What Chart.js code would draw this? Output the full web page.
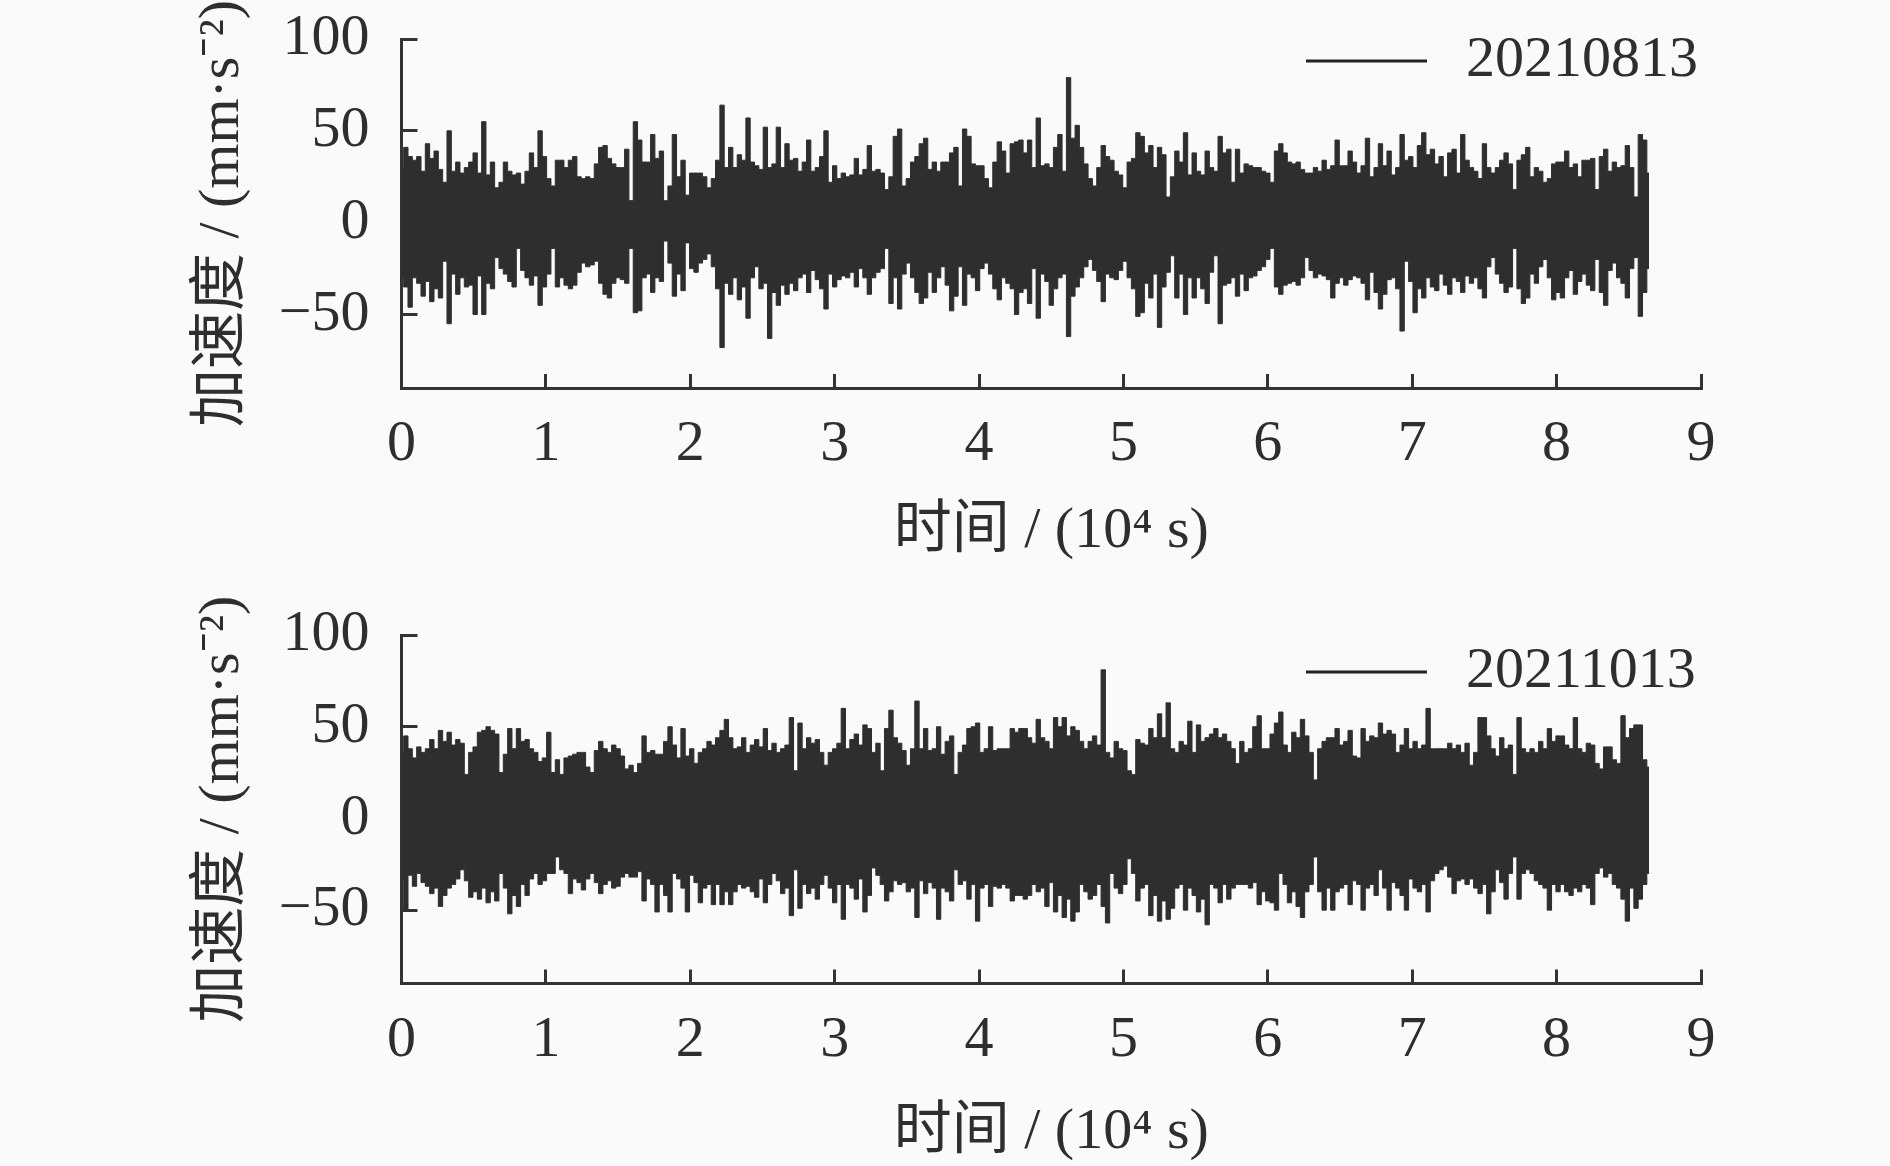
<!DOCTYPE html>
<html><head><meta charset="utf-8">
<script src="https://cdn.jsdelivr.net/npm/chart.js@4"></script>
<style>
html,body{margin:0;padding:0;background:#fafafa;overflow:hidden}
.w{position:absolute;left:0;width:1890px}
canvas{display:block}
</style></head><body>
<div class="w" style="top:0;height:590px"><canvas id="c1"></canvas></div>
<div class="w" style="top:590px;height:576px"><canvas id="c2"></canvas></div>
<script>
const xTickValues=[0,1,2,3,4,5,6,7,8,9];
const yTickValues=[-50,0,50,100];
const sampleStep=0.03;
const legendTop="20210813";
const legendBottom="20211013";
const xTitle="时间 / (10⁴ s)";
const yTitle="加速度 / (mm·s⁻²)";

const topUpper=[30,41,36,34,36,28,43,35,39,29,22,50,28,33,27,30,33,38,27,55,26,33,19,22,33,28,26,27,21,28,38,30,50,36,24,20,34,34,30,34,36,25,24,25,24,32,41,42,35,32,30,30,40,12,55,45,33,33,48,35,39,12,20,48,25,34,15,27,27,27,25,19,24,34,64,30,41,30,37,34,57,33,31,29,52,30,32,52,30,43,34,35,28,33,45,28,30,36,50,22,31,24,27,25,26,35,26,29,42,28,29,27,18,25,47,51,20,24,33,36,43,46,29,33,28,33,33,38,41,20,51,47,32,31,31,24,19,33,44,39,27,43,44,45,38,45,30,57,31,32,30,41,48,28,79,46,53,41,32,24,20,30,42,36,34,28,26,19,33,35,49,47,38,42,30,41,37,14,25,39,33,49,26,38,28,26,39,30,28,47,38,40,22,40,27,32,31,30,30,28,27,22,39,43,38,33,32,33,29,27,27,30,28,34,29,31,45,31,31,39,33,27,31,46,25,30,43,31,39,26,30,48,34,36,30,42,49,37,40,32,36,25,38,40,27,48,34,30,28,24,43,30,27,30,34,38,32,18,34,37,41,25,30,28,22,24,32,33,33,39,30,32,25,34,34,35,18,36,40,28,33,30,31,42,30,14,48,45,27];
const topLower=[-30,-35,-46,-30,-33,-40,-32,-43,-36,-41,-21,-55,-28,-39,-30,-35,-34,-50,-29,-50,-33,-36,-19,-25,-28,-32,-35,-14,-26,-30,-34,-29,-45,-35,-28,-14,-35,-30,-34,-36,-34,-27,-22,-24,-23,-21,-33,-39,-41,-33,-30,-31,-33,-14,-49,-48,-30,-28,-38,-30,-32,-10,-22,-40,-28,-37,-11,-25,-27,-22,-20,-17,-24,-36,-68,-33,-39,-30,-42,-35,-52,-30,-24,-36,-33,-63,-38,-45,-34,-39,-33,-37,-30,-28,-38,-26,-31,-36,-47,-28,-35,-31,-29,-30,-27,-35,-25,-30,-39,-30,-27,-25,-14,-44,-30,-47,-28,-22,-30,-38,-44,-41,-27,-38,-30,-24,-34,-48,-40,-24,-45,-28,-30,-37,-25,-22,-28,-36,-42,-30,-33,-36,-50,-38,-36,-44,-25,-52,-28,-32,-45,-36,-30,-28,-62,-40,-35,-30,-24,-20,-26,-32,-43,-28,-30,-31,-26,-21,-30,-36,-51,-49,-33,-41,-28,-57,-35,-27,-18,-41,-28,-50,-30,-41,-30,-36,-44,-27,-18,-55,-34,-33,-30,-40,-28,-37,-30,-29,-26,-24,-20,-14,-35,-39,-34,-33,-32,-34,-30,-19,-26,-30,-28,-29,-31,-41,-33,-30,-34,-31,-29,-30,-33,-42,-27,-38,-47,-39,-31,-30,-36,-59,-21,-32,-49,-36,-41,-30,-35,-37,-28,-34,-39,-30,-32,-38,-29,-33,-30,-36,-41,-24,-19,-28,-33,-38,-35,-14,-36,-44,-41,-28,-33,-24,-20,-30,-42,-38,-41,-30,-26,-39,-32,-28,-34,-37,-20,-38,-45,-26,-22,-30,-33,-41,-25,-19,-51,-38,-25];
const bottomUpper=[36,45,38,33,39,36,38,43,38,48,42,47,40,43,41,24,36,39,47,48,50,48,46,25,35,49,38,49,42,43,38,36,31,33,47,25,32,24,33,34,35,36,36,28,25,37,42,38,36,40,38,34,27,29,25,30,45,36,37,35,35,42,50,40,33,49,34,38,30,36,38,42,40,44,48,54,44,38,39,44,36,40,43,39,49,37,41,36,38,40,55,26,52,38,44,41,43,36,29,36,38,41,60,38,43,46,40,51,49,36,41,26,49,59,44,41,37,29,38,64,38,49,37,38,50,35,42,45,24,36,40,49,50,52,36,38,50,37,38,38,38,49,47,49,49,44,41,54,44,42,38,55,50,55,45,50,48,42,38,42,45,40,81,36,33,42,38,37,26,24,43,41,40,49,44,57,44,63,38,36,42,40,53,36,51,42,44,46,49,44,46,42,38,30,42,36,38,50,56,38,38,46,52,58,40,36,47,44,54,45,36,21,38,42,44,44,49,40,42,48,34,33,49,42,45,44,52,46,48,46,36,40,49,38,42,38,40,60,38,38,38,38,41,38,40,36,41,29,36,55,55,45,38,34,44,38,40,24,55,38,36,38,36,42,38,49,42,45,45,40,38,55,38,36,41,40,30,27,39,39,32,30,56,44,49,51,51,32,28];
const bottomLower=[-33,-50,-31,-37,-30,-35,-37,-41,-38,-48,-42,-38,-36,-33,-28,-34,-43,-40,-44,-38,-46,-40,-45,-30,-38,-52,-42,-48,-36,-42,-33,-30,-36,-34,-30,-30,-21,-28,-30,-41,-33,-35,-39,-33,-30,-35,-41,-36,-34,-38,-37,-32,-30,-32,-32,-29,-45,-33,-36,-51,-36,-42,-51,-30,-33,-38,-51,-31,-35,-46,-38,-36,-47,-36,-47,-40,-47,-40,-36,-38,-37,-40,-43,-33,-46,-36,-30,-34,-41,-38,-53,-28,-49,-36,-41,-38,-44,-36,-31,-38,-46,-36,-55,-36,-38,-44,-33,-51,-42,-27,-31,-36,-45,-40,-34,-36,-35,-40,-38,-54,-34,-41,-35,-38,-55,-38,-40,-45,-28,-36,-34,-44,-36,-56,-38,-36,-48,-37,-38,-36,-38,-45,-42,-42,-44,-42,-36,-40,-38,-48,-35,-51,-42,-54,-44,-56,-51,-36,-40,-44,-42,-36,-48,-57,-30,-38,-41,-36,-22,-30,-45,-38,-36,-53,-42,-56,-45,-55,-49,-38,-36,-50,-38,-42,-51,-44,-58,-36,-38,-46,-36,-44,-38,-36,-36,-36,-38,-35,-47,-40,-45,-46,-50,-30,-36,-46,-40,-48,-54,-40,-36,-21,-40,-50,-38,-50,-40,-38,-36,-47,-34,-36,-50,-38,-36,-42,-28,-38,-50,-35,-38,-42,-50,-33,-38,-40,-36,-51,-34,-30,-28,-26,-32,-41,-34,-33,-36,-33,-38,-41,-36,-52,-40,-28,-35,-44,-30,-21,-44,-30,-28,-30,-34,-36,-38,-50,-36,-40,-36,-40,-42,-38,-40,-36,-38,-47,-30,-27,-32,-30,-36,-38,-44,-56,-38,-49,-44,-36,-30];

const INK='#2e2e2e', AXIS='#333333', FAMILY='"Liberation Serif","Noto Sans CJK SC",serif';
const legendPlacer={id:'legendPlacer',afterLayout(chart){
  const o=chart.options.plugins.legendPlacer;
  chart.legend.left=o.left; chart.legend.top=o.top;
}};
function build(id,h,upper,lower,label,L){
  const series=v=>v.map((y,i)=>({x:i*sampleStep,y}));
  const ds=(v,lab,fill)=>({label:lab,data:series(v),borderColor:INK,backgroundColor:INK,borderWidth:1,pointRadius:0,stepped:'middle',fill});
  new Chart(document.getElementById(id),{
    type:'line',
    data:{datasets:[ds(upper,label,'+1'),ds(lower,label+' lower',false)]},
    plugins:[legendPlacer],
    options:{
      responsive:false,animation:false,devicePixelRatio:1,
      layout:{padding:{left:0,right:189,top:L.top,bottom:0}},
      plugins:{
        tooltip:{enabled:false},
        legendPlacer:{left:1306,top:L.legendY},
        legend:{display:true,position:'chartArea',align:'start',
          labels:{padding:0,color:INK,font:{family:FAMILY,size:58},usePointStyle:true,pointStyle:'line',pointStyleWidth:131,
            generateLabels:()=>[{text:label,strokeStyle:'#222',fillStyle:'#222',lineWidth:3,lineDash:[121,10],lineDashOffset:0,pointStyle:'line',fontColor:INK,hidden:false}]}}
      },
      scales:{
        x:{type:'linear',min:0,max:9,
          afterBuildTicks:s=>{s.ticks=xTickValues.map(value=>({value}))},
          afterFit:s=>{s.height=h-L.axisY},
          border:{display:true,color:AXIS,width:3},
          grid:{drawOnChartArea:false,drawTicks:true,tickLength:-14,tickWidth:3,tickColor:AXIS},
          ticks:{autoSkip:false,maxRotation:0,padding:L.xPad,color:INK,font:{family:FAMILY,size:58}},
          title:{display:true,text:xTitle,color:INK,font:{family:FAMILY,size:58},padding:{top:0,bottom:L.xTitleBottom}}
        },
        y:{type:'linear',min:-90,max:100,
          afterBuildTicks:s=>{s.ticks=yTickValues.map(value=>({value}))},
          afterFit:s=>{s.width=401.5;s.paddingTop=0;s.paddingBottom=0},
          border:{display:true,color:AXIS,width:3},
          grid:{drawOnChartArea:false,drawTicks:true,tickLength:-16,tickWidth:3,tickColor:AXIS},
          ticks:{autoSkip:false,padding:48,color:INK,font:{family:FAMILY,size:58},callback:v=>String(v).replace('-','−')},
          title:{display:true,text:yTitle,color:INK,font:{family:FAMILY,size:58},padding:{top:188,bottom:0}}
        }
      }
    }
  });
}
for(const [id,h] of [['c1',590],['c2',576]]){const c=document.getElementById(id);c.width=1890;c.height=h;c.style.width='1890px';c.style.height=h+'px';}
build('c1',590,topUpper,topLower,legendTop,{top:39,axisY:388,xPad:36,xTitleBottom:23,legendY:32});
build('c2',576,bottomUpper,bottomLower,legendBottom,{top:45,axisY:393.5,xPad:36,xTitleBottom:-2,legendY:53});
</script>
</body></html>
